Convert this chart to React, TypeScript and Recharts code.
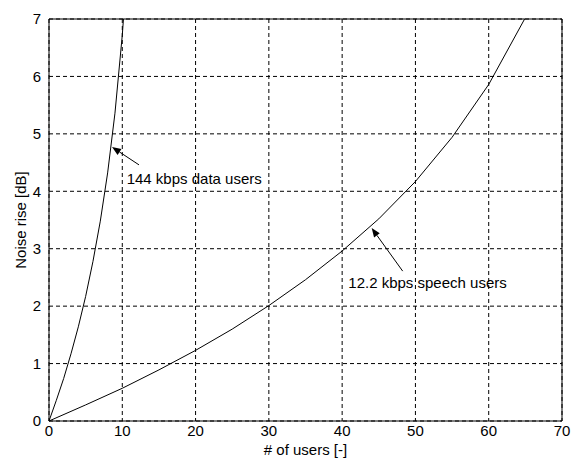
import { LineChart, Line, XAxis, YAxis, CartesianGrid, ReferenceLine, ReferenceDot } from 'recharts';

// noise rise [dB]
const dataUsersX = [0, 1, 2, 3, 4, 5, 6, 7, 8, 9, 10, 10.16];
const dataUsersRise = [0, 0.36, 0.74, 1.17, 1.64, 2.17, 2.78, 3.48, 4.32, 5.36, 6.72, 7.0];

const speechUsersX = [0, 5, 10, 15, 20, 25, 30, 35, 40, 45, 50, 55, 60, 64.9];
const speechUsersRise = [0, 0.28, 0.57, 0.89, 1.23, 1.6, 2.01, 2.46, 2.96, 3.52, 4.17, 4.94, 5.86, 7.0];

const xTicks = [0, 10, 20, 30, 40, 50, 60, 70];
const yTicks = [0, 1, 2, 3, 4, 5, 6, 7];

const dataSeries = dataUsersX.map((x, i) => ({ x, y: dataUsersRise[i] }));
const speechSeries = speechUsersX.map((x, i) => ({ x, y: speechUsersRise[i] }));

const FONT = '"Liberation Sans", Arial, sans-serif';

function Arrow(p: any) {
  const { x1, y1, x2, y2 } = p;
  const ang = Math.atan2(y2 - y1, x2 - x1);
  const len = 9;
  const w = 3.5;
  const bx = x2 - len * Math.cos(ang);
  const by = y2 - len * Math.sin(ang);
  const nx = -Math.sin(ang) * w;
  const ny = Math.cos(ang) * w;
  return (
    <g>
      <line x1={x1} y1={y1} x2={bx} y2={by} stroke="#000" strokeWidth={1} />
      <polygon points={`${x2},${y2} ${bx + nx},${by + ny} ${bx - nx},${by - ny}`} fill="#000" />
    </g>
  );
}

function note(text: string) {
  return (p: any) => (
    <text x={p.cx} y={p.cy} fontFamily={FONT} fontSize={15} fill="#000">
      {text}
    </text>
  );
}

export default function App() {
  return (
    <div style={{ position: 'absolute', left: 0, top: 0, background: '#fff' }}>
      <LineChart width={577} height={462} margin={{ top: 19, right: 15, bottom: 0, left: 0 }}>
        <CartesianGrid stroke="#000" strokeDasharray="4 3" />
        <XAxis
          type="number"
          dataKey="x"
          domain={[0, 70]}
          ticks={xTicks}
          height={41}
          tickLine={false}
          tickSize={4}
          tickMargin={0}
          stroke="#000"
          tick={{ fill: '#000', fontSize: 15, fontFamily: FONT }}
          label={{ value: '# of users [-]', position: 'insideBottom', offset: 7, fill: '#000', fontSize: 15, fontFamily: FONT }}
        />
        <YAxis
          type="number"
          domain={[0, 7]}
          ticks={yTicks}
          width={49}
          tickLine={false}
          tickSize={5}
          tickMargin={3}
          stroke="#000"
          tick={{ fill: '#000', fontSize: 15, fontFamily: FONT }}
          label={{
            content: (props: any) => {
              const vb = props.viewBox;
              const cx = vb.x + 26;
              const cy = vb.y + vb.height / 2;
              return (
                <text x={cx} y={cy} transform={`rotate(-90 ${cx} ${cy})`} textAnchor="middle" fontFamily={FONT} fontSize={15} fill="#000">
                  Noise rise [dB]
                </text>
              );
            },
          }}
        />
        <ReferenceLine y={7} stroke="#000" />
        <ReferenceLine x={70} stroke="#000" />
        <Line data={dataSeries} dataKey="y" type="linear" stroke="#000" strokeWidth={1} dot={false} isAnimationActive={false} />
        <Line data={speechSeries} dataKey="y" type="linear" stroke="#000" strokeWidth={1} dot={false} isAnimationActive={false} />
        <ReferenceLine segment={[{ x: 12.28, y: 4.46 }, { x: 8.6, y: 4.77 }]} shape={Arrow} />
        <ReferenceLine segment={[{ x: 48.26, y: 2.61 }, { x: 44.03, y: 3.36 }]} shape={Arrow} />
        <ReferenceDot x={10.6} y={4.13} r={0} shape={note('144 kbps data users')} />
        <ReferenceDot x={40.84} y={2.32} r={0} shape={note('12.2 kbps speech users')} />
      </LineChart>
    </div>
  );
}
